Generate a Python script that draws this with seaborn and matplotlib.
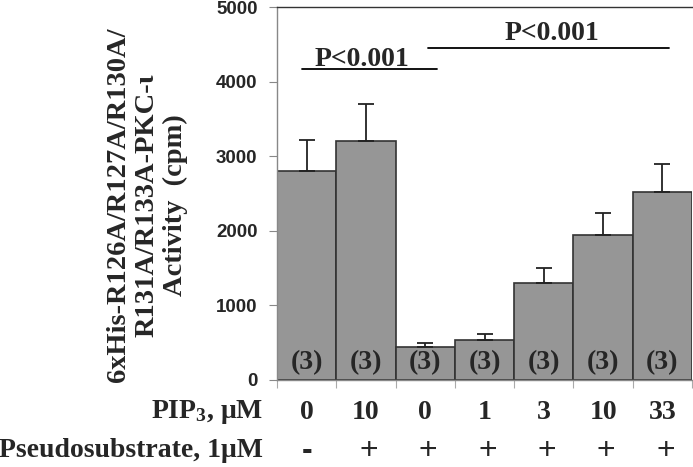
import matplotlib
matplotlib.use("Agg")
import matplotlib.pyplot as plt
import matplotlib.transforms as mtransforms
import seaborn as sns
import pandas as pd
import numpy as np

# ---- data ----
pip3_labels = ["0", "10", "0", "1", "3", "10", "33"]
pseudo_labels = ["-", "+", "+", "+", "+", "+", "+"]
activity = [2800, 3210, 440, 530, 1300, 1950, 2525]
sem = [420, 490, 60, 80, 200, 290, 375]
n_labels = ["(3)"] * 7
y_ticks = [0, 1000, 2000, 3000, 4000, 5000]
sig1 = {"x0": -0.08, "x1": 2.2, "y": 4170, "text": "P<0.001", "tx": 0.93, "ty": 4215}
sig2 = {"x0": 2.05, "x1": 6.11, "y": 4450, "text": "P<0.001", "tx": 4.14, "ty": 4560}

sns.set_style("white")
plt.rcParams["font.family"] = ["Liberation Serif", "DejaVu Serif"]
plt.rcParams["mathtext.fontset"] = "custom"
plt.rcParams["mathtext.rm"] = "Liberation Serif:bold"
plt.rcParams["mathtext.bf"] = "Liberation Serif:bold"
plt.rcParams["mathtext.it"] = "Liberation Serif:bold"

FS = 20

df = pd.DataFrame({"cond": [f"c{i}" for i in range(7)], "activity": activity})

fig = plt.figure(figsize=(6.93, 4.67), dpi=100)
ax = fig.add_axes([277/693, 87/467, 415/693, 373/467])

sns.barplot(data=df, x="cond", y="activity", ax=ax, color="#969696",
            width=1.0, edgecolor="#333333", linewidth=1.2, saturation=1, errorbar=None)
xs = np.arange(len(activity))
ax.errorbar(xs, activity, yerr=[np.zeros(len(sem)), sem], fmt="none",
            ecolor="#222222", elinewidth=1.3, capsize=5.5, capthick=1.3, zorder=3)

ax.set_xlim(-0.5, 6.5)
ax.set_ylim(0, 5000)
ax.set_yticks(y_ticks)
ax.set_yticklabels([str(t) for t in y_ticks], fontfamily="Liberation Sans",
                   fontweight="bold", fontsize=13.5)
ax.tick_params(axis="y", direction="out", length=6, width=0.8, color="#888888", pad=8, left=True)
ax.set_xticks(np.arange(-0.5, 7.0, 1.0), minor=True)
ax.set_xticks([])
ax.tick_params(axis="x", which="minor", direction="out", length=6, width=0.8,
               color="#aaaaaa", bottom=True)
ax.set_xlabel("")
ax.set_ylabel("")

for s in ["left", "bottom"]:
    ax.spines[s].set_color("#888888")
    ax.spines[s].set_linewidth(1)
ax.spines["top"].set_color("#333333")
ax.spines["top"].set_linewidth(1)
ax.spines["right"].set_visible(False)

# n labels inside bars
for x, lab in zip(xs, n_labels):
    ax.text(x, 230, lab, ha="center", va="center", fontsize=FS, fontweight="bold")

# significance bars
for s in (sig1, sig2):
    ax.plot([s["x0"], s["x1"]], [s["y"], s["y"]], color="black", lw=1.3, clip_on=False)
    ax.text(s["tx"], s["ty"], s["text"], ha="center", va="baseline",
            fontsize=FS, fontweight="bold")

# category rows under the axis
trans = mtransforms.blended_transform_factory(ax.transData, ax.transAxes)
for x, lab in zip(xs, pip3_labels):
    ax.text(x, -0.086, lab, transform=trans, ha="center", va="center",
            fontsize=FS, fontweight="bold")
for x, lab in zip(xs, pseudo_labels):
    ax.text(x + (0.05 if lab == "+" else 0.0), -0.19, lab, transform=trans,
            ha="center", va="center", fontsize=23,
            fontweight=("normal" if lab == "+" else "bold"),
            fontfamily="Liberation Sans")
ax.text(-0.034, -0.086, r"PIP$_{3}$, μM", transform=ax.transAxes, ha="right",
        va="center", fontsize=FS, fontweight="bold")
ax.text(-0.034, -0.19, "Pseudosubstrate, 1μM", transform=ax.transAxes, ha="right",
        va="center", fontsize=FS, fontweight="bold")

# y label
ax.text(-0.313, 0.469, "6xHis-R126A/R127A/R130A/\nR131A/R133A-PKC-ι\nActivity  (cpm)",
        transform=ax.transAxes, rotation=90, ha="center", va="center",
        multialignment="center", fontsize=FS + 0.5, fontweight="bold", linespacing=1.2)

fig.savefig("out.png", dpi=100)
